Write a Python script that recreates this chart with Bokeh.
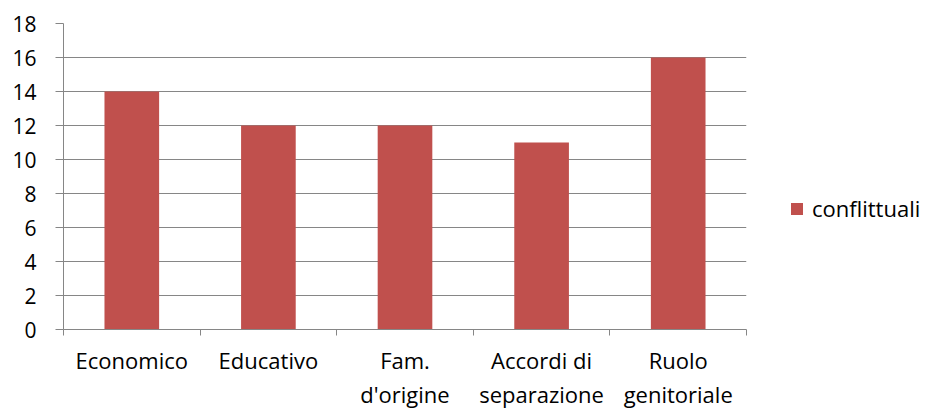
from bokeh.plotting import figure
from bokeh.models import (ColumnDataSource, FixedTicker, Range1d, Legend, LegendItem,
                          LinearAxis, Grid)
from bokeh.embed import file_html
from bokeh.resources import INLINE

categories = ["Economico", "Educativo", "Fam.\nd'origine", "Accordi di\nseparazione", "Ruolo\ngenitoriale"]
values = [14, 12, 12, 11, 16]
series_name = "conflittuali"
y_ticks = [0, 2, 4, 6, 8, 10, 12, 14, 16, 18]

GRAY = "#868686"
BAR = "#C0504D"
FONT = "Open Sans"
FS = "22px"
FS_Y = "21px"

x_centers = [i + 0.5 for i in range(len(categories))]
x_bounds = list(range(len(categories) + 1))
src = ColumnDataSource(dict(x=x_centers, top=values))

p = figure(frame_width=683, frame_height=306, output_backend="svg", toolbar_location=None,
           x_range=Range1d(0, len(categories)), y_range=Range1d(0, y_ticks[-1]),
           x_axis_type=None, y_axis_type=None,
           min_border_left=63, min_border_right=166, min_border_top=23, min_border_bottom=60)
p.outline_line_color = None
p.background_fill_color = "white"
p.border_fill_color = "white"

grid = Grid(dimension=1, ticker=FixedTicker(ticks=y_ticks), grid_line_color=GRAY, grid_line_width=1)
p.add_layout(grid)

yaxis = LinearAxis(ticker=FixedTicker(ticks=y_ticks), major_tick_out=8, major_tick_in=0,
                   minor_tick_line_color=None, axis_line_color=GRAY, major_tick_line_color=GRAY,
                   major_label_text_font=FONT, major_label_text_font_size=FS_Y,
                   major_label_text_color="black", major_label_standoff=19)
p.add_layout(yaxis, "left")

xaxis = LinearAxis(ticker=FixedTicker(ticks=x_centers, minor_ticks=x_bounds),
                   major_tick_line_color=None, major_tick_out=0, major_tick_in=0,
                   minor_tick_out=6, minor_tick_in=0, minor_tick_line_color=GRAY,
                   axis_line_color=GRAY,
                   major_label_overrides={xc: c for xc, c in zip(x_centers, categories)},
                   major_label_text_font=FONT, major_label_text_font_size=FS,
                   major_label_text_color="black", major_label_standoff=9,
                   major_label_text_line_height=1.15)
p.add_layout(xaxis, "below")

r = p.vbar(x="x", top="top", width=0.4, source=src, fill_color=BAR, line_color=None)

legend = Legend(items=[LegendItem(label=series_name, renderers=[r])], location=(43, 106),
                padding=0, margin=0, border_line_color=None, background_fill_alpha=0,
                glyph_width=15, glyph_height=15, label_standoff=8,
                label_text_font=FONT, label_text_font_size=FS, label_text_color="black")
p.add_layout(legend, "right")

open("out.html", "w").write(file_html(p, INLINE))
